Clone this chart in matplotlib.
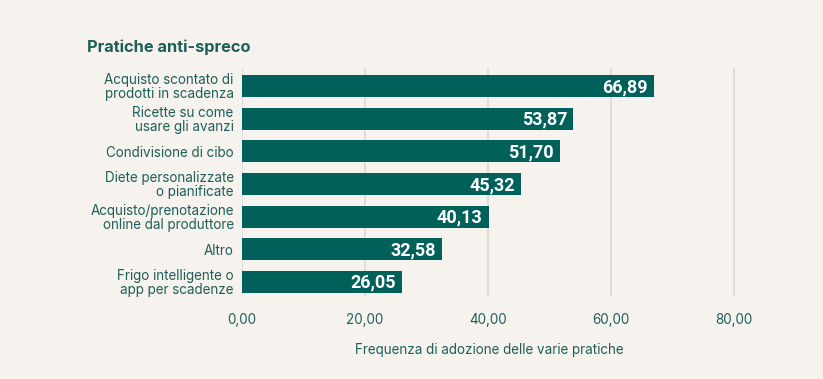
import matplotlib
matplotlib.use("Agg")
import matplotlib.pyplot as plt
from matplotlib import font_manager

categories = [
    "Acquisto scontato di\nprodotti in scadenza",
    "Ricette su come\nusare gli avanzi",
    "Condivisione di cibo",
    "Diete personalizzate\no pianificate",
    "Acquisto/prenotazione\nonline dal produttore",
    "Altro",
    "Frigo intelligente o\napp per scadenze",
]
values = [66.89, 53.87, 51.70, 45.32, 40.13, 32.58, 26.05]
xticks = [0, 20, 40, 60, 80]
xtick_labels = ["0,00", "20,00", "40,00", "60,00", "80,00"]

bg = "#f6f2ee"
bar_color = "#00605a"
text_color = "#1f5f58"
grid_color = "#dcd8d4"

plt.rcParams['font.family'] = ['Inter', 'DejaVu Sans']

names = {f.name for f in font_manager.fontManager.ttflist}
val_family = ['Liberation Sans Narrow'] if 'Liberation Sans Narrow' in names else ['Roboto', 'DejaVu Sans']

fig = plt.figure(figsize=(8.23, 3.79), dpi=100, facecolor=bg)
ax = fig.add_axes([242/823, (379-296)/379, 494/823, 228/379])
ax.set_facecolor(bg)

y = list(range(len(categories)))
ax.barh(y, values, height=0.68, color=bar_color, zorder=3)
for yi, v in zip(y, values):
    ax.text(v - 1.0, yi + 0.03, f"{v:.2f}".replace(".", ","), ha="right", va="center",
            color="white", fontsize=13, fontweight="bold", family=val_family, zorder=4)

ax.set_ylim(6.43, -0.55)
ax.set_xlim(0, 80.3)
ax.set_yticks(y)
ax.set_yticklabels(categories, fontsize=9.7, color=text_color, linespacing=1.0)
ax.set_xticks(xticks)
ax.set_xticklabels(xtick_labels, fontsize=9.7, color=text_color)
ax.tick_params(axis="both", length=0, pad=6)
ax.tick_params(axis="x", pad=12)
ax.xaxis.grid(True, color=grid_color, linewidth=1.2, zorder=0)
for s in ax.spines.values():
    s.set_visible(False)

ax.set_xlabel("Frequenza di adozione delle varie pratiche", fontsize=9.7,
              color=text_color, labelpad=12)
fig.text(87/823, 1 - 47/379, "Pratiche anti-spreco", fontsize=11.8, fontweight="bold",
         color=text_color, ha="left", va="center")

fig.savefig("out.png", dpi=100, facecolor=bg)
